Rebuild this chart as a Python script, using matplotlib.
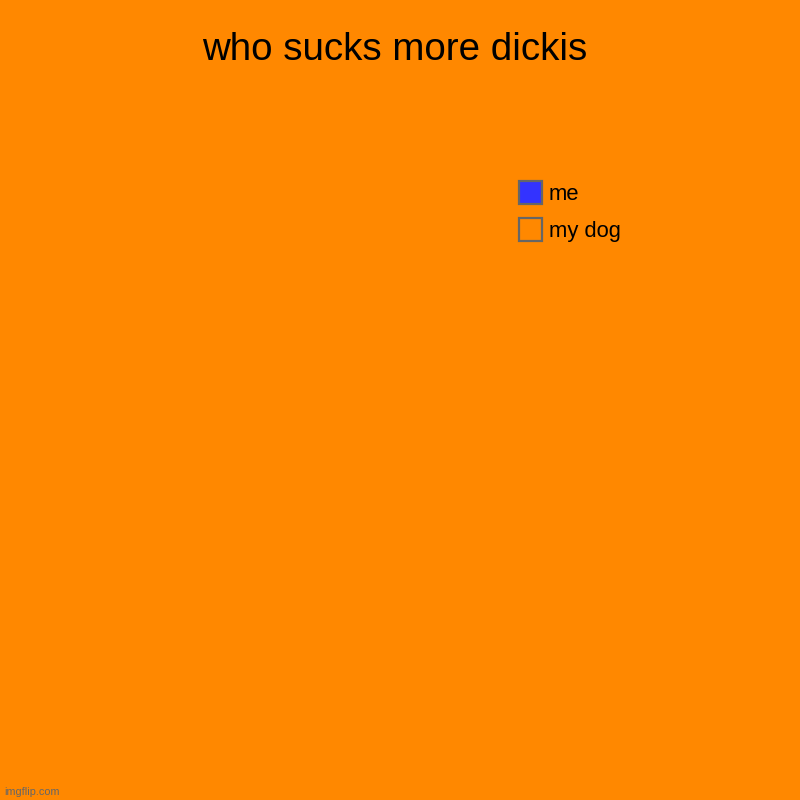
import matplotlib.pyplot as plt
from matplotlib.patches import Rectangle

plt.rcParams["font.family"] = ["Liberation Sans", "DejaVu Sans"]

title = "who sucks more dickis"
labels = ["me", "my dog"]
values = [0, 0]
colors = ["#3333ff", "#ff8800"]
bg = "#ff8800"

W, H = 800, 800
fig = plt.figure(figsize=(8, 8), dpi=100, facecolor=bg)
ax = fig.add_axes([0.05, 0.1, 0.55, 0.75])
ax.set_facecolor(bg)
ax.axis("off")
if sum(values) > 0:
    ax.pie(values, colors=colors, wedgeprops=dict(edgecolor="#666666", linewidth=1))
ax.set_aspect("equal")

def px(x, y):
    return x / W, 1 - y / H

fig.text(*px(395, 50), title, ha="center", va="center", fontsize=27.7, color="black")

# legend
for i, (lab, col) in enumerate(zip(labels, colors)):
    y0 = 181 + i * 37
    x, y = px(519, y0 + 23)
    fig.add_artist(Rectangle((x, y), 23 / W, 23 / H, transform=fig.transFigure,
                             facecolor=col, edgecolor="#666666", linewidth=1.6))
    fig.text(*px(549, y0 + 13), lab, ha="left", va="center", fontsize=15.8, color="black")

fig.text(*px(4, 792), "imgflip.com", ha="left", va="center", fontsize=7.8, color="#666666")

fig.savefig("out.png", dpi=100, facecolor=bg)
